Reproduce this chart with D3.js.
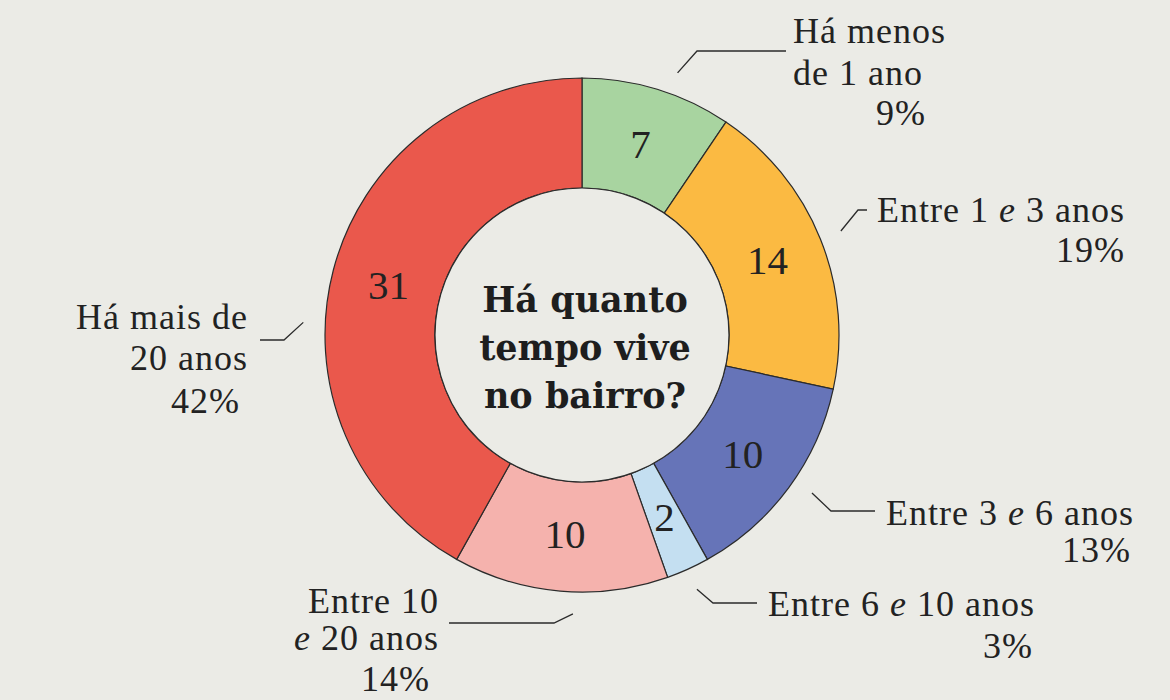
<!DOCTYPE html>
<html>
<head>
<meta charset="utf-8">
<script src="https://cdn.jsdelivr.net/npm/d3@7"></script>
<style>
  html, body { margin: 0; padding: 0; background: #ebebe6; }
  svg { display: block; }
  .lbl { font-family: "Liberation Serif", serif; font-size: 36px; fill: #222; letter-spacing: 1px; }
  .num { font-family: "Liberation Serif", serif; font-size: 41px; fill: #222; }
  .title { font-family: "DejaVu Serif", serif; font-weight: bold; font-size: 35px; fill: #1e1e1e; }
</style>
</head>
<body>
<div id="chart"></div>
<script>
"use strict";

// data
const categories = ["Há menos de 1 ano", "Entre 1 e 3 anos", "Entre 3 e 6 anos",
                    "Entre 6 e 10 anos", "Entre 10 e 20 anos", "Há mais de 20 anos"];
const counts = [7, 14, 10, 2, 10, 31];
const percents = ["9%", "19%", "13%", "3%", "14%", "42%"];
const sliceColors = ["#a8d4a0", "#fbba42", "#6674b8", "#c4dff1", "#f5b2ad", "#ea584c"];
const titleLines = ["Há quanto", "tempo vive", "no bairro?"];

// text lines of each label; words in [] are set in italic
const labelLines = [
    [["Há menos"], ["de 1 ano"], ["9%"]],
    [["Entre 1 ", "[e]", " 3 anos"], ["19%"]],
    [["Entre 3 ", "[e]", " 6 anos"], ["13%"]],
    [["Entre 6 ", "[e]", " 10 anos"], ["3%"]],
    [["Entre 10"], ["[e]", " 20 anos"], ["14%"]],
    [["Há mais de"], ["20 anos"], ["42%"]]
];

const width = 1170, height = 700;
const cx = 582, cy = 335;
const outerR = 257, innerR = 147;

// label placement: x/anchor/baseline per line, leader elbow + end, start angle shift
const layout = [
    { lines: [[793, "start", 43], [793, "start", 85], [926, "end", 125]],
      elbow: [697, 51], end: [786, 51], dA: 3 },
    { lines: [[1125, "end", 222], [1125, "end", 262]],
      elbow: [858, 210], end: [867, 210], dA: 0 },
    { lines: [[1134, "end", 525], [1131, "end", 562]],
      elbow: [831, 511], end: [875, 511], dA: -2 },
    { lines: [[1035, "end", 616], [1033, "end", 658]],
      elbow: [713, 603], end: [757, 603], dA: 0 },
    { lines: [[439, "end", 613], [439, "end", 650], [430, "end", 691]],
      elbow: [554, 623], end: [449, 623], dA: -3 },
    { lines: [[248, "end", 329], [248, "end", 370], [240, "end", 413]],
      elbow: [284, 340], end: [260, 340], dA: -12 }
];

const svg = d3.select("#chart").append("svg")
    .attr("width", width)
    .attr("height", height);

svg.append("rect")
    .attr("width", width)
    .attr("height", height)
    .attr("fill", "#ebebe6");

const g = svg.append("g").attr("transform", `translate(${cx},${cy})`);

const pie = d3.pie().sort(null).value(d => d);
const arcs = pie(counts);

const arc = d3.arc().innerRadius(innerR).outerRadius(outerR);
const midArc = d3.arc().innerRadius(200).outerRadius(200);

g.selectAll("path.slice")
    .data(arcs)
    .enter()
    .append("path")
    .attr("class", "slice")
    .attr("d", arc)
    .attr("fill", (d, i) => sliceColors[i])
    .attr("stroke", "#2b2b2b")
    .attr("stroke-width", 1.2);

// inner disc
g.append("circle")
    .attr("r", innerR)
    .attr("fill", "#ebebe6")
    .attr("stroke", "#2b2b2b")
    .attr("stroke-width", 1.2);

// counts inside the slices
g.selectAll("text.num")
    .data(arcs)
    .enter()
    .append("text")
    .attr("class", "num")
    .attr("x", d => midArc.centroid(d)[0])
    .attr("y", d => midArc.centroid(d)[1])
    .attr("text-anchor", "middle")
    .attr("dominant-baseline", "central")
    .text(d => d.data);

// centre title
g.selectAll("text.title")
    .data(titleLines)
    .enter()
    .append("text")
    .attr("class", "title")
    .attr("text-anchor", "middle")
    .attr("x", 3)
    .attr("y", (d, i) => -23 + i * 48)
    .text(d => d);

// leader lines
const line = d3.line();
arcs.forEach((d, i) => {
    const L = layout[i];
    const a = (d.startAngle + d.endAngle) / 2 + L.dA * Math.PI / 180;
    const r = 279;
    const start = [cx + r * Math.sin(a), cy - r * Math.cos(a)];
    svg.append("path")
        .attr("d", line([start, L.elbow, L.end]))
        .attr("fill", "none")
        .attr("stroke", "#2b2b2b")
        .attr("stroke-width", 1.3);
});

// outer labels
categories.forEach((c, i) => {
    const L = layout[i];
    labelLines[i].forEach((parts, j) => {
        const t = svg.append("text")
            .attr("class", "lbl")
            .attr("x", L.lines[j][0])
            .attr("y", L.lines[j][2])
            .attr("text-anchor", L.lines[j][1]);
        parts.forEach(p => {
            const it = p.startsWith("[");
            t.append("tspan")
                .attr("font-style", it ? "italic" : null)
                .text(it ? p.slice(1, -1) : p);
        });
    });
});
</script>
</body>
</html>
